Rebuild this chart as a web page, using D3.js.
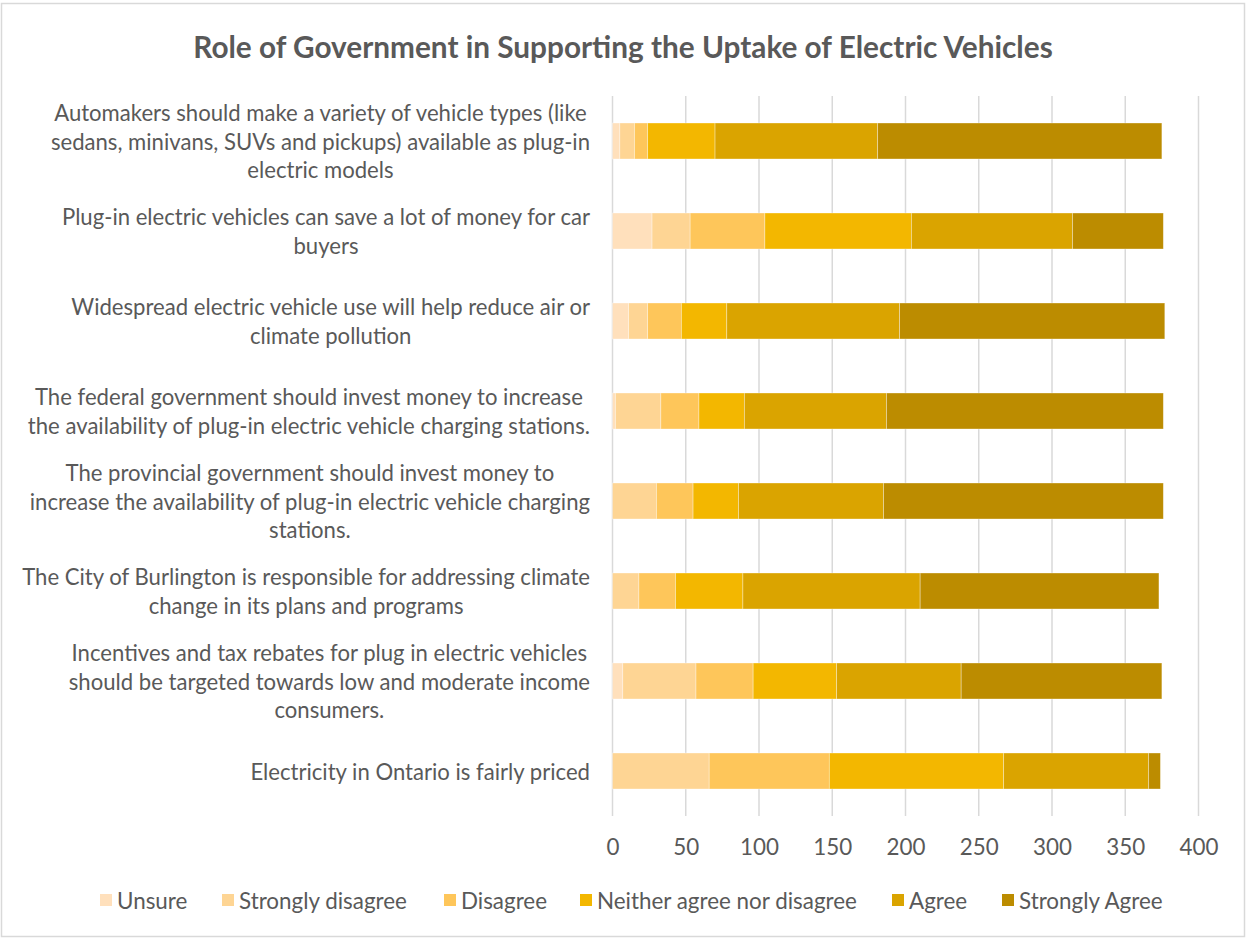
<!DOCTYPE html>
<html>
<head>
<meta charset="utf-8">
<script src="https://cdn.jsdelivr.net/npm/d3@7"></script>
<style>
  html, body { margin: 0; padding: 0; background: #fff; }
  svg { display: block; }
</style>
</head>
<body>
<svg id="chart" width="1247" height="939"></svg>
<script>
// Survey statements (wrapped as they appear on the axis), top to bottom
const categories = [
  ["Automakers should make a variety of vehicle types (like", "sedans, minivans, SUVs and pickups) available as plug-in", "electric models"],
  ["Plug-in electric vehicles can save a lot of money for car", "buyers"],
  ["Widespread electric vehicle use will help reduce air or", "climate pollution"],
  ["The federal government should invest money to increase", "the availability of plug-in electric vehicle charging stations."],
  ["The provincial government should invest money to", "increase the availability of plug-in electric vehicle charging", "stations."],
  ["The City of Burlington is responsible for addressing climate", "change in its plans and programs"],
  ["Incentives and tax rebates for plug in electric vehicles", "should be targeted towards low and moderate income", "consumers."],
  ["Electricity in Ontario is fairly priced"]
];

const seriesNames = ["Unsure", "Strongly disagree", "Disagree", "Neither agree nor disagree", "Agree", "Strongly Agree"];
const seriesColors = ["#FFE0BC", "#FED594", "#FEC65A", "#F3B700", "#DAA400", "#BC8C00"];

// Response counts per statement (same order as categories)
const unsure           = [5, 27, 11, 2, 0, 0, 7, 0];
const stronglyDisagree = [10, 26, 13, 31, 30, 18, 50, 66];
const disagree         = [9, 51, 23, 26, 25, 25, 39, 82];
const neither          = [46, 100, 31, 31, 31, 46, 57, 119];
const agree            = [111, 110, 118, 97, 99, 121, 85, 99];
const stronglyAgree    = [194, 62, 181, 189, 191, 163, 137, 8];

const xTicks = [0, 50, 100, 150, 200, 250, 300, 350, 400];

const seriesValues = [unsure, stronglyDisagree, disagree, neither, agree, stronglyAgree];
const rows = categories.map((c, i) => {
  const r = { key: i };
  seriesNames.forEach((s, j) => r[s] = seriesValues[j][i]);
  return r;
});

const svg = d3.select("#chart");
const FONT = "Lato, 'Open Sans', 'DejaVu Sans', sans-serif";
const TEXT = "#595959";

// measure helper to size fonts to the intended text widths
function fitSize(str, weight, target) {
  const t = svg.append("text").attr("font-family", FONT).attr("font-weight", weight)
    .attr("font-size", 20).text(str);
  const w = t.node().getComputedTextLength();
  t.remove();
  return 20 * target / w;
}
const labelSize = fitSize("The City of Burlington is responsible for addressing climate", 400, 568);
const titleSize = fitSize("Role of Government in Supporting the Uptake of Electric Vehicles", 700, 860);
const legendSize = fitSize("Strongly disagree", 400, 168);

// outer frame
svg.append("rect").attr("x", 1.5).attr("y", 3.5).attr("width", 1243).attr("height", 933)
  .attr("fill", "#fff").attr("stroke", "#D9D9D9").attr("stroke-width", 1.5);

// title
svg.append("text").attr("x", 623).attr("y", 46)
  .attr("text-anchor", "middle").attr("dominant-baseline", "central")
  .attr("font-family", FONT).attr("font-weight", 700).attr("font-size", titleSize)
  .attr("fill", TEXT).text("Role of Government in Supporting the Uptake of Electric Vehicles");

const x = d3.scaleLinear().domain([0, 400]).range([612.5, 1198.5]);
const y = d3.scaleBand().domain(d3.range(categories.length)).range([96, 816])
  .paddingInner(0.6).paddingOuter(0.3);

// vertical gridlines
svg.append("g").selectAll("line").data(xTicks).join("line")
  .attr("x1", d => x(d)).attr("x2", d => x(d))
  .attr("y1", 96).attr("y2", 816)
  .attr("stroke", "#D9D9D9").attr("stroke-width", 1.5);

// x axis tick labels
const xAxis = d3.axisBottom(x).tickValues(xTicks).tickSize(0).tickPadding(0);
const gx = svg.append("g").attr("transform", "translate(0,847)").call(xAxis);
gx.select(".domain").remove();
gx.selectAll("text").attr("font-family", FONT).attr("font-size", legendSize)
  .attr("fill", TEXT).attr("dy", "0.35em").attr("y", 0);

// stacked bars
const stack = d3.stack().keys(seriesNames);
const layers = stack(rows);
svg.append("g").selectAll("g").data(layers).join("g")
  .attr("fill", (d, i) => seriesColors[i])
  .selectAll("rect").data(d => d).join("rect")
  .attr("x", d => x(d[0]))
  .attr("width", d => Math.max(0, x(d[1]) - x(d[0])))
  .attr("y", d => y(d.data.key))
  .attr("height", y.bandwidth())
  .attr("stroke", "#fff").attr("stroke-opacity", 0.45).attr("stroke-width", 0.75);

// category labels: lines centred within their block, block right-aligned to the axis
const lineH = 28.7;
const labelRight = 590;
const lg = svg.append("g").attr("font-family", FONT).attr("font-size", labelSize).attr("fill", TEXT);
categories.forEach((lines, i) => {
  const widths = lines.map(l => {
    const t = lg.append("text").text(l);
    const w = t.node().getComputedTextLength();
    t.remove();
    return w;
  });
  const maxW = d3.max(widths);
  const cx = labelRight - maxW / 2;
  const cy = y(i) + y.bandwidth() / 2;
  lines.forEach((l, k) => {
    lg.append("text").attr("x", cx)
      .attr("y", cy + (k - (lines.length - 1) / 2) * lineH)
      .attr("text-anchor", "middle").attr("dominant-baseline", "central")
      .text(l);
  });
});

// legend
const legendX = [100, 222, 444, 580, 892, 1002];
const leg = svg.append("g").attr("font-family", FONT).attr("font-size", legendSize).attr("fill", TEXT);
seriesNames.forEach((s, i) => {
  leg.append("rect").attr("x", legendX[i]).attr("y", 894).attr("width", 12).attr("height", 12)
    .attr("fill", seriesColors[i]);
  leg.append("text").attr("x", legendX[i] + 17).attr("y", 900)
    .attr("dominant-baseline", "central").text(s);
});
</script>
</body>
</html>
